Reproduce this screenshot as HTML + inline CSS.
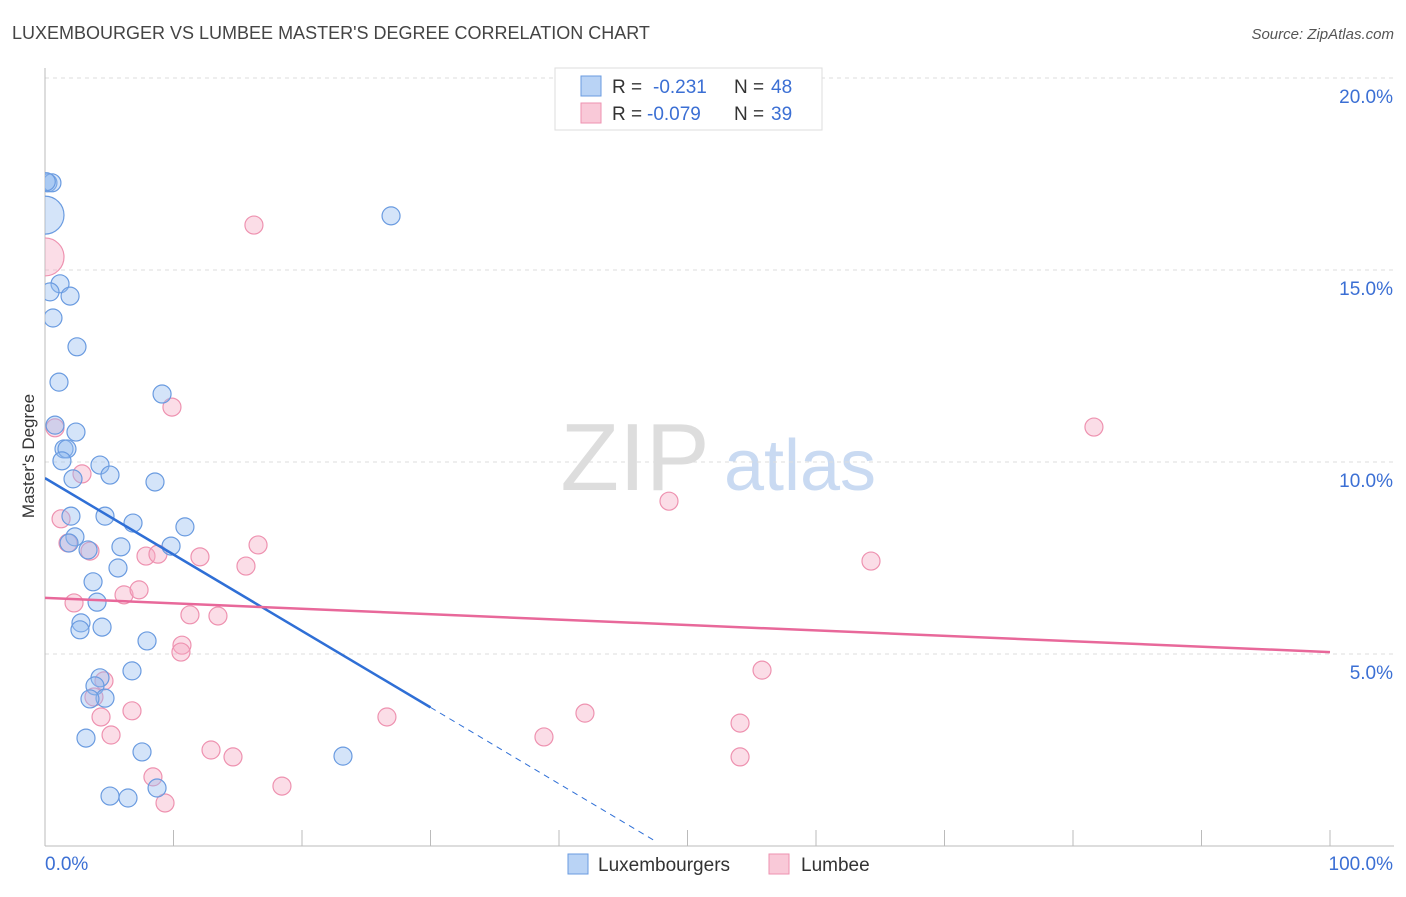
<!DOCTYPE html>
<html><head><meta charset="utf-8"><style>
body{margin:0;background:#fff;font-family:"Liberation Sans",sans-serif}
svg text{font-family:"Liberation Sans",sans-serif}
</style></head><body>
<svg id="chart" width="1406" height="892" xmlns="http://www.w3.org/2000/svg">
<defs><clipPath id="plotclip"><rect x="45" y="60" width="1360" height="786"/></clipPath></defs>
<text x="12" y="39" font-size="18" fill="#444">LUXEMBOURGER VS LUMBEE MASTER'S DEGREE CORRELATION CHART</text>
<text x="1394" y="39" font-size="15" fill="#555" text-anchor="end" font-style="italic">Source: ZipAtlas.com</text>
<text transform="translate(34,456) rotate(-90)" font-size="17" fill="#333" text-anchor="middle">Master's Degree</text>
<g><text x="635" y="490" font-size="96" fill="#ddd" text-anchor="middle" font-family="Liberation Serif,serif">ZIP</text><text x="800" y="490" font-size="72" fill="#c9daf2" text-anchor="middle">atlas</text></g>
<g id="grid"></g><g id="marks" clip-path="url(#plotclip)"></g>
<g>
<rect x="555" y="68" width="267" height="62" fill="#fff" stroke="#ddd"/>
<rect x="581" y="76" width="20" height="20" fill="#b9d3f5" stroke="#6a9be0"/>
<rect x="581" y="103" width="20" height="20" fill="#f9c9d8" stroke="#ee92b0"/>
<text x="612" y="93" font-size="19" fill="#333">R =</text><text x="653" y="93" font-size="19" fill="#3b6fd4">-0.231</text>
<text x="734" y="93" font-size="19" fill="#333">N =</text><text x="771" y="93" font-size="19" fill="#3b6fd4">48</text>
<text x="612" y="120" font-size="19" fill="#333">R =</text><text x="647" y="120" font-size="19" fill="#3b6fd4">-0.079</text>
<text x="734" y="120" font-size="19" fill="#333">N =</text><text x="771" y="120" font-size="19" fill="#3b6fd4">39</text>
</g>
<g>
<rect x="568" y="854" width="20" height="20" fill="#b9d3f5" stroke="#6a9be0"/>
<text x="598" y="871" font-size="19" fill="#333">Luxembourgers</text>
<rect x="769" y="854" width="20" height="20" fill="#f9c9d8" stroke="#ee92b0"/>
<text x="801" y="871" font-size="19" fill="#333">Lumbee</text>
</g>
</svg>
<script>
const blueX=[0.23,0.54,0,1.17,0.39,1.95,0.62,2.49,1.09,0.78,2.41,1.48,1.71,1.32,4.28,5.06,2.18,8.56,9.11,26.93,2.02,4.67,6.85,10.89,2.33,3.35,5.91,9.81,5.68,3.74,4.05,2.8,2.72,4.44,7.94,6.77,4.28,3.89,4.67,3.5,3.19,7.55,23.19,5.06,6.46,8.72,1.87,0.1];
const blueY=[17.27,17.27,16.43,14.64,14.43,14.32,13.75,13.0,12.08,10.96,10.78,10.34,10.34,10.03,9.92,9.66,9.56,9.48,11.77,16.41,8.59,8.59,8.41,8.31,8.05,7.71,7.79,7.81,7.24,6.88,6.35,5.81,5.63,5.70,5.34,4.56,4.38,4.17,3.85,3.83,2.81,2.45,2.34,1.30,1.25,1.51,7.89,17.3];
const pinkX=[0,16.26,9.88,0.78,2.88,1.25,1.79,3.5,7.86,8.79,12.06,15.64,16.58,2.26,6.15,7.32,11.28,13.46,10.66,10.58,4.59,3.81,4.36,6.77,5.14,12.92,14.63,8.4,9.34,18.44,26.61,38.83,42.02,48.56,64.28,81.63,55.8,54.09,54.09];
const pinkY=[15.34,16.17,11.43,10.89,9.69,8.52,7.89,7.68,7.55,7.60,7.53,7.29,7.84,6.33,6.54,6.67,6.02,5.99,5.23,5.05,4.30,3.88,3.36,3.52,2.89,2.5,2.32,1.80,1.12,1.56,3.36,2.84,3.46,8.98,7.42,10.91,4.58,3.2,2.32];
const yTicks=[5,10,15,20];
const xTickLabels=["0.0%","100.0%"];
const blueTrend=[9.58,-0.199];
const pinkTrend=[6.46,-0.0141];
const X=v=>45+v*12.85, Y=v=>846-v*38.4;
const NS="http://www.w3.org/2000/svg";
const grid=document.getElementById('grid'), marks=document.getElementById('marks');
function mk(tag,attrs,parent){const e=document.createElementNS(NS,tag);for(const k in attrs)e.setAttribute(k,attrs[k]);parent.appendChild(e);return e;}
yTicks.forEach(t=>{
 const l=mk('line',{x1:45,x2:1394,y1:Y(t),y2:Y(t),stroke:'#ddd','stroke-dasharray':'4,4'},grid);
 
 
 const tx=mk('text',{x:1393,y:Y(t)+25,'font-size':19,fill:'#3b6fd4','text-anchor':'end'},grid);
 tx.textContent=t.toFixed(1)+'%';
 
 
});
const ax=mk('line',{x1:45,x2:45,y1:68,y2:846,stroke:'#bbb'},grid);


const bx=mk('line',{x1:45,x2:1394,y1:846,y2:846,stroke:'#bbb'},grid);


for(let i=0;i<=10;i++){const t=mk('line',{x1:X(i*10),x2:X(i*10),y1:830,y2:846,stroke:'#bbb'},grid);
 
 }
const xl0=mk('text',{x:45,y:870,'font-size':19,fill:'#3b6fd4'},grid);xl0.textContent=xTickLabels[0];


const xl1=mk('text',{x:1393,y:870,'font-size':19,fill:'#3b6fd4','text-anchor':'end'},grid);xl1.textContent=xTickLabels[1];


function pts(xs,ys,fill,stroke,name){xs.forEach((x,i)=>{
 const r=(x===0&&i===(name==='lux-point'?2:0))?19:9;
 const c=mk('circle',{cx:X(x),cy:Y(ys[i]),r:r,fill:fill,stroke:stroke,'stroke-width':1.2},marks);
 
 });}
pts(pinkX,pinkY,'rgba(245,170,195,0.4)','#ee92b0','lumbee-point');
pts(blueX,blueY,'rgba(147,187,240,0.4)','#6a9be0','lux-point');
const b1=mk('line',{x1:X(0),y1:Y(blueTrend[0]),x2:X(30),y2:Y(blueTrend[0]+blueTrend[1]*30),stroke:'#2f6fd6','stroke-width':2.5},marks);


const b2=mk('line',{x1:X(30),y1:Y(blueTrend[0]+blueTrend[1]*30),x2:X(47.5),y2:Y(blueTrend[0]+blueTrend[1]*47.5),stroke:'#2f6fd6','stroke-width':1,'stroke-dasharray':'6,5'},marks);


const p1=mk('line',{x1:X(0),y1:Y(pinkTrend[0]),x2:X(100),y2:Y(pinkTrend[0]+pinkTrend[1]*100),stroke:'#e8689a','stroke-width':2.5},marks);


</script>
</body></html>
